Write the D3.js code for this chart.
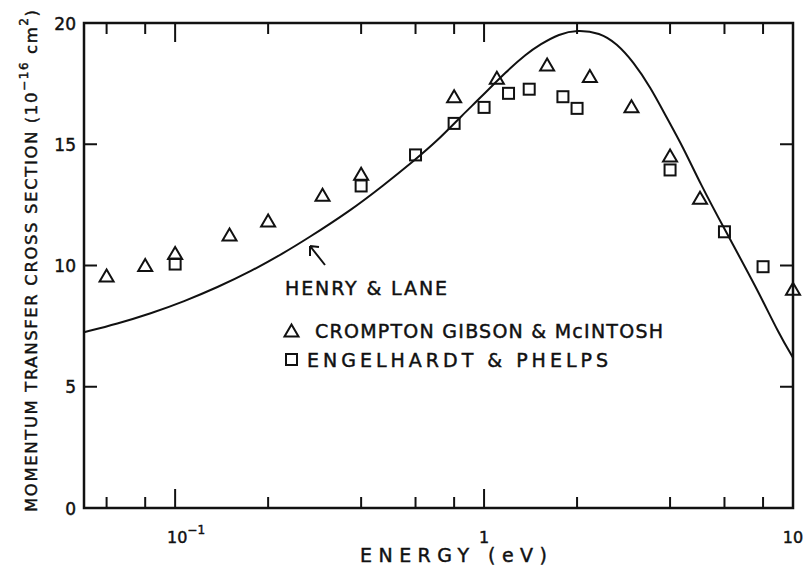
<!DOCTYPE html>
<html>
<head>
<meta charset="utf-8">
<script src="https://cdn.jsdelivr.net/npm/d3@7"></script>
<style>
    body { margin: 0; background: #fff; }
    text { font-family: "DejaVu Sans", sans-serif; fill: #111; stroke: #111; stroke-width: 0.45px; }
</style>
</head>
<body>
<svg></svg>
<script>
// Henry & Lane theory curve (energy in eV, cross section in 1e-16 cm^2)
var henryEnergy = [0.0507, 0.065, 0.0833, 0.107, 0.137, 0.176, 0.225, 0.267, 0.368, 0.472, 0.59, 0.703, 0.85, 0.97, 1.18, 1.37, 1.52, 1.75, 2.0, 2.37, 2.69, 3.04, 3.45, 3.9, 4.42, 5.0, 6.0, 7.64, 9.03, 10];
var henryQ = [7.25, 7.6, 8.02, 8.52, 9.1, 9.76, 10.52, 11.1, 12.25, 13.3, 14.3, 15.12, 16.2, 16.9, 18.0, 18.72, 19.12, 19.55, 19.72, 19.6, 19.15, 18.4, 17.37, 16.1, 14.85, 13.4, 11.5, 9.05, 7.15, 6.2];

// Crompton, Gibson & McIntosh (triangles)
var cromptonEnergy = [0.06, 0.08, 0.1, 0.15, 0.2, 0.3, 0.4, 0.8, 1.1, 1.6, 2.2, 3.0, 4.0, 5.0, 10];
var cromptonQ = [9.57, 10.0, 10.5, 11.26, 11.84, 12.9, 13.76, 16.96, 17.72, 18.27, 17.79, 16.55, 14.52, 12.77, 9.02];

// Engelhardt & Phelps (squares)
var engelEnergy = [0.1, 0.4, 0.6, 0.8, 1.0, 1.2, 1.4, 1.8, 2.0, 4.0, 6.0, 8.0];
var engelQ = [10.06, 13.28, 14.56, 15.86, 16.52, 17.1, 17.27, 16.96, 16.48, 13.94, 11.39, 9.95];

var yTicks = [0, 5, 10, 15, 20];
var xMinorTicks = [0.06, 0.08, 0.2, 0.4, 0.6, 0.8, 2, 4, 6, 8];
var xMajorTicks = [0.1, 1];

var svg = d3.select("svg")
    .attr("width", 806)
    .attr("height", 573)
;

var plotLeft = 84, plotRight = 793, plotTop = 23, plotBottom = 508;

var x = d3.scaleLog()
    .domain([0.0507, 10])
    .range([plotLeft, plotRight])
;
var y = d3.scaleLinear()
    .domain([0, 20])
    .range([plotBottom, plotTop])
;

//==========================================================================
// Frame and ticks.

var ink = "#111";

svg.append("rect")
    .attr("x", plotLeft)
    .attr("y", plotTop)
    .attr("width", plotRight - plotLeft)
    .attr("height", plotBottom - plotTop)
    .attr("fill", "none")
    .attr("stroke", ink)
    .attr("stroke-width", 2.5)
;

function xTickLines(values, len) {
    var ticks = svg.append("g").attr("stroke", ink).attr("stroke-width", 2);
    values.forEach(function(v) {
        ticks.append("line")
            .attr("x1", x(v)).attr("x2", x(v))
            .attr("y1", plotBottom).attr("y2", plotBottom - len);
        ticks.append("line")
            .attr("x1", x(v)).attr("x2", x(v))
            .attr("y1", plotTop).attr("y2", plotTop + len);
    });
}
xTickLines(xMinorTicks, 11);
xTickLines(xMajorTicks, 19);

var yTickG = svg.append("g").attr("stroke", ink).attr("stroke-width", 2);
yTicks.slice(1, -1).forEach(function(v) {
    yTickG.append("line")
        .attr("x1", plotLeft).attr("x2", plotLeft + 13)
        .attr("y1", y(v)).attr("y2", y(v));
    yTickG.append("line")
        .attr("x1", plotRight).attr("x2", plotRight - 13)
        .attr("y1", y(v)).attr("y2", y(v));
});

// y tick labels
svg.selectAll(".ylab")
    .data(yTicks)
    .enter()
    .append("text")
    .attr("class", "ylab")
    .attr("x", 76)
    .attr("y", function(d) { return y(d) + 6.5; })
    .attr("text-anchor", "end")
    .style("font-size", "17px")
    .text(function(d) { return d; })
;

// x tick labels
var tenth = svg.append("text")
    .attr("x", 167)
    .attr("y", 543)
    .style("font-size", "16px")
;
tenth.append("tspan").text("10");
tenth.append("tspan")
    .attr("dy", -9)
    .style("font-size", "12px")
    .text("\u22121");

svg.append("text")
    .attr("x", x(1))
    .attr("y", 543)
    .attr("text-anchor", "middle")
    .style("font-size", "16px")
    .text("1")
;
svg.append("text")
    .attr("x", x(10))
    .attr("y", 543)
    .attr("text-anchor", "middle")
    .style("font-size", "16px")
    .text("10")
;

// axis titles
svg.append("text")
    .attr("x", 360)
    .attr("y", 562)
    .attr("textLength", 187)
    .attr("lengthAdjust", "spacing")
    .style("font-size", "19px")
    .text("ENERGY (eV)")
;

var yTitle = svg.append("text")
    .attr("transform", "translate(37,512) rotate(-90)")
    .attr("x", 0)
    .attr("y", 0)
    .attr("textLength", 502)
    .attr("lengthAdjust", "spacing")
    .style("font-size", "16.5px")
;
yTitle.append("tspan").text("MOMENTUM TRANSFER CROSS SECTION (10");
yTitle.append("tspan").attr("dy", -9).style("font-size", "12px").text("\u221216");
yTitle.append("tspan").attr("dy", 9).text(" cm");
yTitle.append("tspan").attr("dy", -9).style("font-size", "12px").text("2");
yTitle.append("tspan").attr("dy", 9).text(")");

//==========================================================================
// Theory curve.

var line = d3.line()
    .x(function(d) { return x(d[0]); })
    .y(function(d) { return y(d[1]); })
    .curve(d3.curveBasis)
;

svg.append("path")
    .datum(d3.zip(henryEnergy, henryQ))
    .attr("d", line)
    .attr("fill", "none")
    .attr("stroke", ink)
    .attr("stroke-width", 2)
;

//==========================================================================
// Measurements.

function triPath(cx, cy) {
    return "M" + (cx - 7) + "," + (cy + 5.5) + "L" + cx + "," + (cy - 6.5) + "L" + (cx + 7) + "," + (cy + 5.5) + "Z";
}

svg.selectAll(".tri")
    .data(d3.zip(cromptonEnergy, cromptonQ))
    .enter()
    .append("path")
    .attr("class", "tri")
    .attr("d", function(d) { return triPath(x(d[0]), y(d[1])); })
    .attr("fill", "none")
    .attr("stroke", ink)
    .attr("stroke-width", 2)
;

svg.selectAll(".sq")
    .data(d3.zip(engelEnergy, engelQ))
    .enter()
    .append("rect")
    .attr("class", "sq")
    .attr("x", function(d) { return x(d[0]) - 5.5; })
    .attr("y", function(d) { return y(d[1]) - 5.5; })
    .attr("width", 11)
    .attr("height", 11)
    .attr("fill", "none")
    .attr("stroke", ink)
    .attr("stroke-width", 2)
;

//==========================================================================
// Legend.

svg.append("text")
    .attr("x", 285)
    .attr("y", 295)
    .attr("textLength", 162)
    .attr("lengthAdjust", "spacing")
    .style("font-size", "19px")
    .text("HENRY & LANE")
;

// arrow pointing at the curve
svg.append("path")
    .attr("d", "M325,265L310,246M310,246L310,256M310,246L319,247")
    .attr("fill", "none")
    .attr("stroke", ink)
    .attr("stroke-width", 2)
;

svg.append("path")
    .attr("d", triPath(291.5, 331))
    .attr("fill", "none")
    .attr("stroke", ink)
    .attr("stroke-width", 2)
;
svg.append("text")
    .attr("x", 315)
    .attr("y", 338)
    .attr("textLength", 348)
    .attr("lengthAdjust", "spacing")
    .style("font-size", "19px")
    .text("CROMPTON GIBSON & McINTOSH")
;

svg.append("rect")
    .attr("x", 286)
    .attr("y", 354)
    .attr("width", 11)
    .attr("height", 11)
    .attr("fill", "none")
    .attr("stroke", ink)
    .attr("stroke-width", 2)
;
svg.append("text")
    .attr("x", 307)
    .attr("y", 367)
    .attr("textLength", 301)
    .attr("lengthAdjust", "spacing")
    .style("font-size", "19px")
    .text("ENGELHARDT & PHELPS")
;
</script>
</body>
</html>
